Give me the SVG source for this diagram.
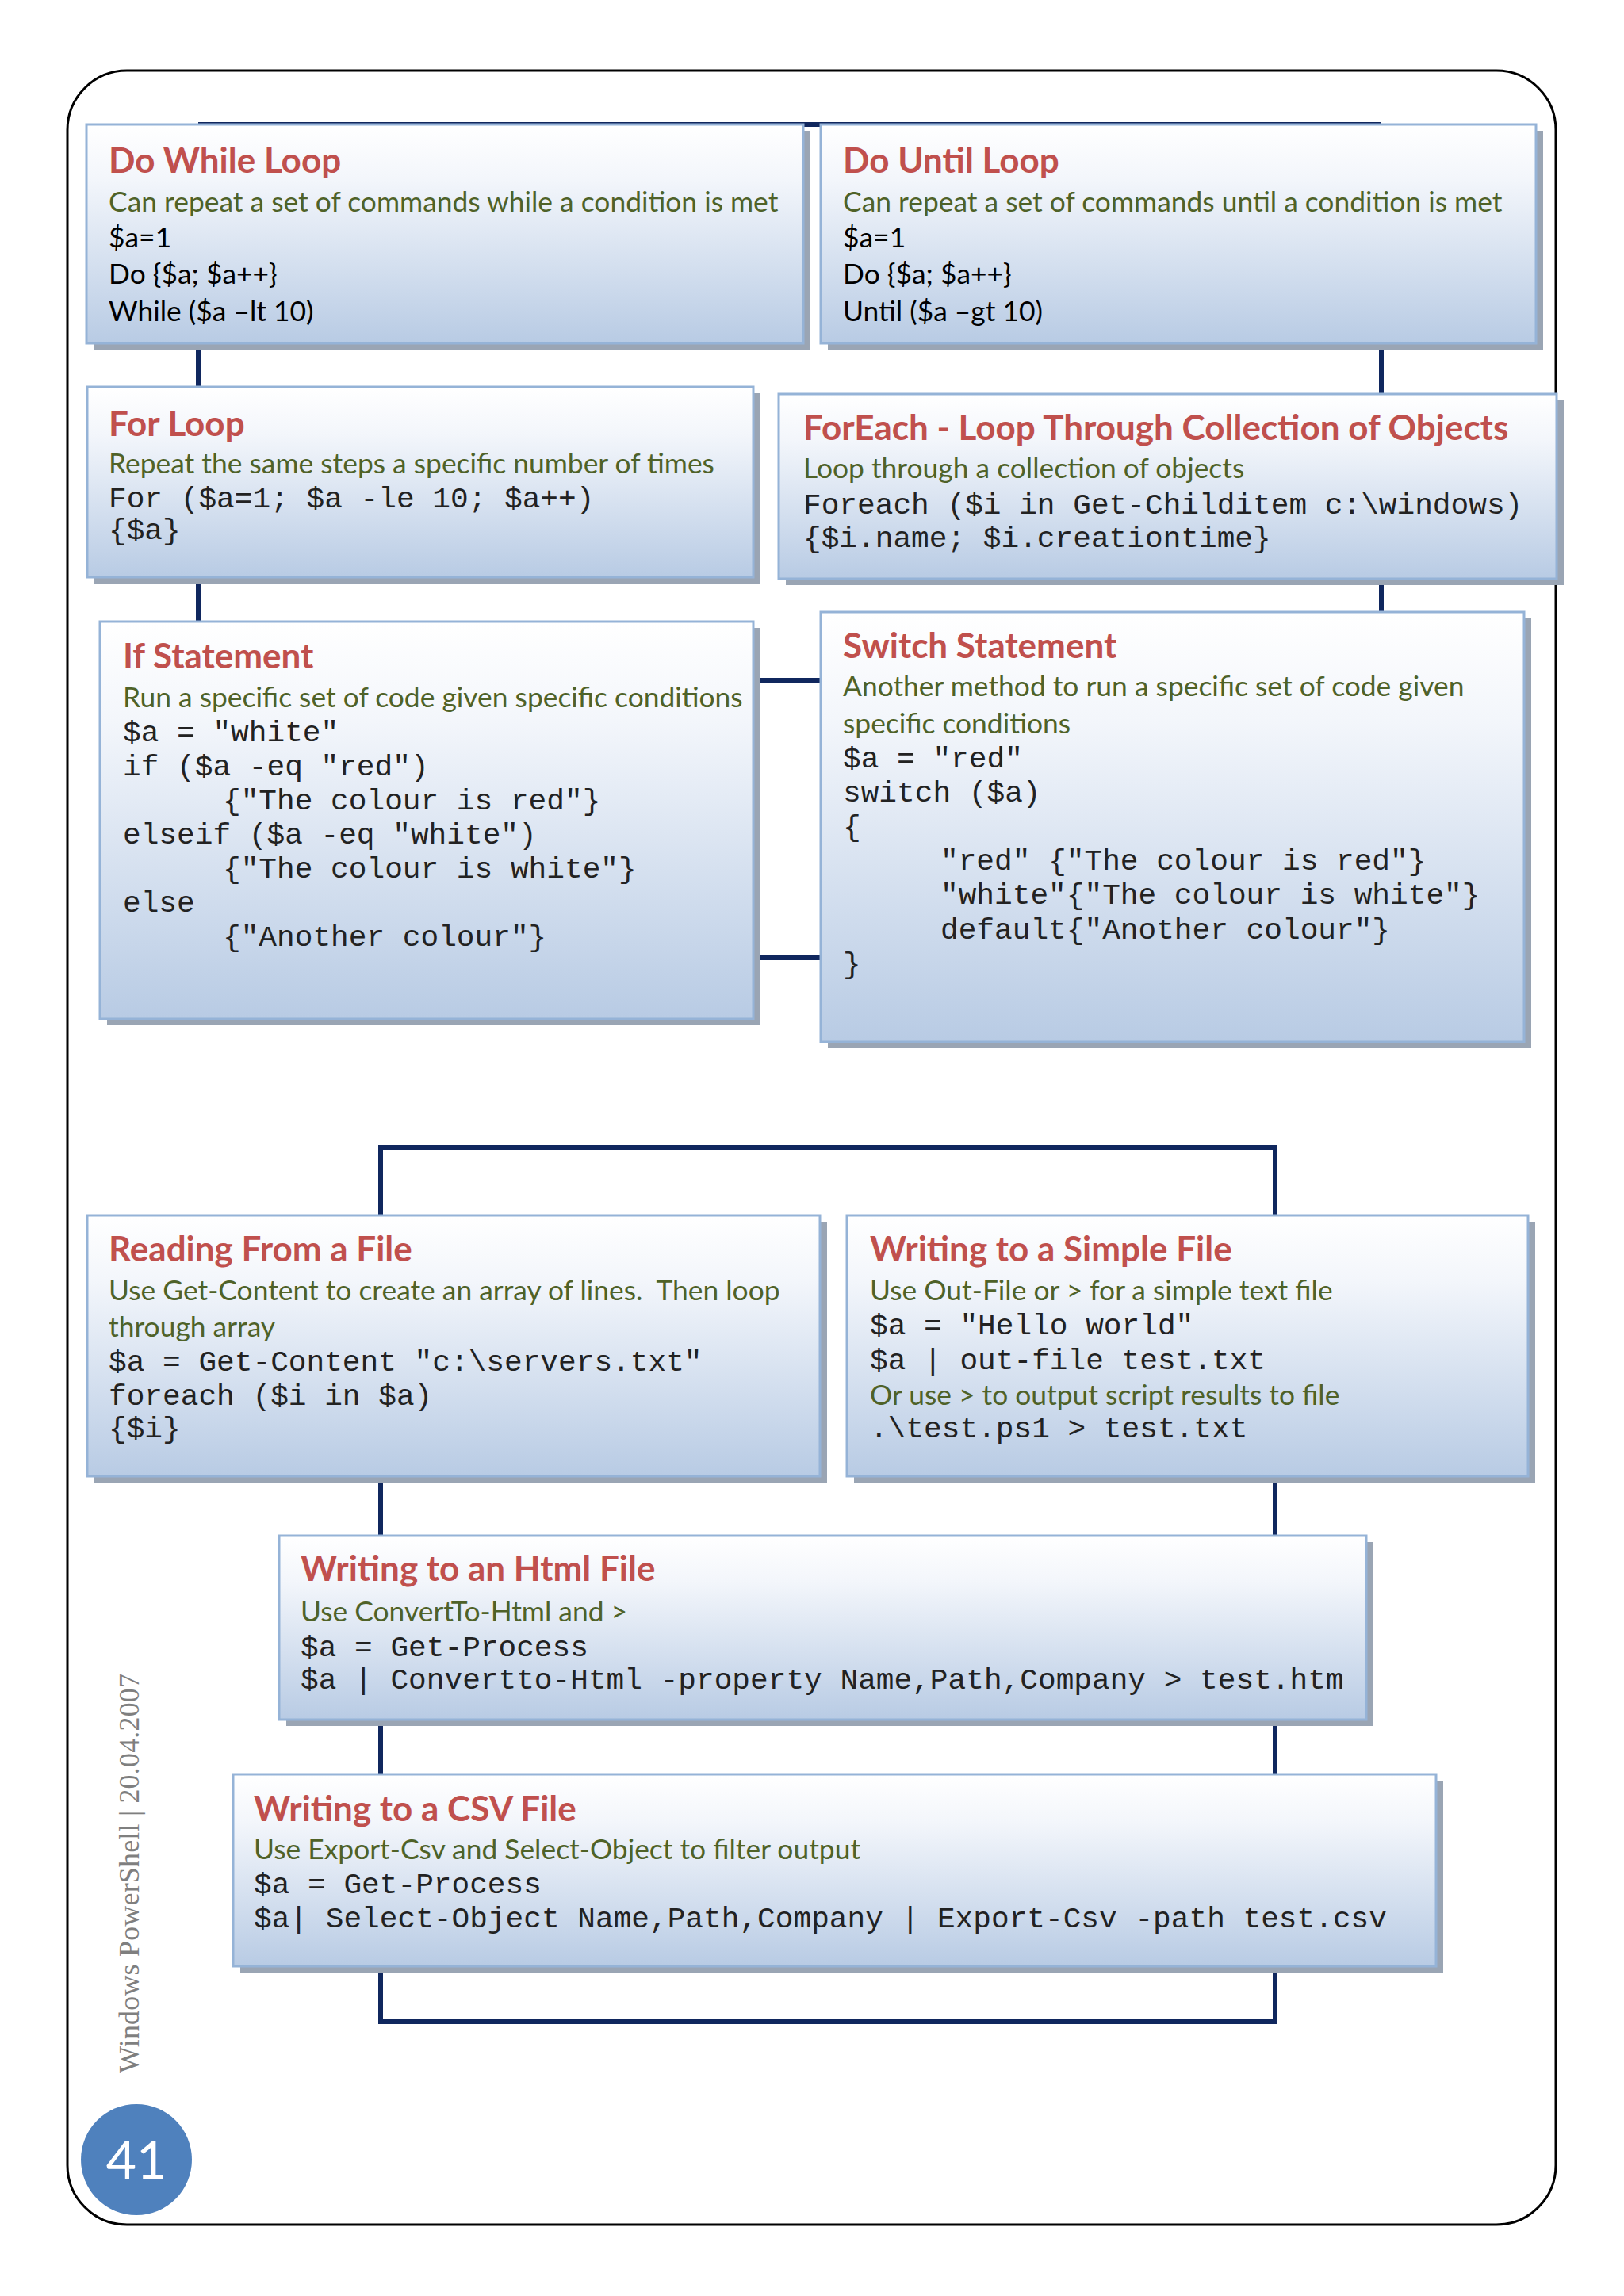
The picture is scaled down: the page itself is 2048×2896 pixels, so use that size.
<svg xmlns="http://www.w3.org/2000/svg" width="2048" height="2896" viewBox="0 0 2048 2896">
<defs>
<linearGradient id="boxGrad" x1="0" y1="0" x2="0" y2="1">
<stop offset="0" stop-color="#ffffff"/>
<stop offset="0.25" stop-color="#f3f6fb"/>
<stop offset="1" stop-color="#b8cbe4"/>
</linearGradient>
<style>
.shadow{fill:#9aa5b4}
.box{fill:url(#boxGrad);stroke:#95b3d7;stroke-width:3}
.title{font-family:Lato,"Open Sans",sans-serif;font-weight:bold;font-size:44px;fill:#c0504d}
.sub{font-family:Lato,"Open Sans",sans-serif;font-size:35.4px;fill:#4f6228}
.body{font-family:Lato,"Open Sans",sans-serif;font-size:35.4px;fill:#000000}
.mono{font-family:"Liberation Mono","Courier New",monospace;font-size:37.8px;fill:#222222}
.conn{fill:none;stroke:#10275e;stroke-width:6}
.side{font-family:"Liberation Serif","DejaVu Serif",serif;font-size:36px;fill:#7f7f7f}
</style>
</defs>
<rect x="0" y="0" width="2048" height="2896" fill="#ffffff"/>
<rect id="page-border" x="85" y="89" width="1877" height="2717" rx="75" ry="75" fill="none" stroke="#000000" stroke-width="3"/>

<g id="connectors">
<path class="conn" d="M250 157 H1742"/>
<path class="conn" d="M250 433 V488"/>
<path class="conn" d="M250 728 V784"/>
<path class="conn" d="M1742 433 V497"/>
<path class="conn" d="M1742 730 V772"/>
<path class="conn" d="M955 858 H1035"/>
<path class="conn" d="M955 1208 H1035"/>
<path class="conn" d="M480 1533 V1447 H1608 V1533"/>
<path class="conn" d="M480 1862 V1937"/>
<path class="conn" d="M1608 1862 V1937"/>
<path class="conn" d="M480 2169 V2238"/>
<path class="conn" d="M1608 2169 V2238"/>
<path class="conn" d="M480 2480 V2550 H1608 V2480"/>
</g>

<g id="do-while">
<rect class="shadow" x="118" y="165" width="904" height="276"/>
<rect class="box" x="109" y="157" width="904" height="276"/>
<text class="title" x="137" y="218">Do While Loop</text>
<text class="sub" x="137" y="267">Can repeat a set of commands while a condition is met</text>
<text class="body" x="137" y="312">$a=1</text>
<text class="body" x="137" y="358">Do {$a; $a++}</text>
<text class="body" x="137" y="405">While ($a –lt 10)</text>
</g>

<g id="do-until">
<rect class="shadow" x="1044" y="165" width="902" height="276"/>
<rect class="box" x="1035" y="157" width="902" height="276"/>
<text class="title" x="1063" y="218">Do Until Loop</text>
<text class="sub" x="1063" y="267">Can repeat a set of commands until a condition is met</text>
<text class="body" x="1063" y="312">$a=1</text>
<text class="body" x="1063" y="358">Do {$a; $a++}</text>
<text class="body" x="1063" y="405">Until ($a –gt 10)</text>
</g>

<g id="for-loop">
<rect class="shadow" x="119" y="496" width="840" height="240"/>
<rect class="box" x="110" y="488" width="840" height="240"/>
<text class="title" x="137" y="550">For Loop</text>
<text class="sub" x="137" y="597">Repeat the same steps a specific number of times</text>
<text class="mono" x="137" y="640">For ($a=1; $a -le 10; $a++)</text>
<text class="mono" x="137" y="680">{$a}</text>
</g>

<g id="foreach-loop">
<rect class="shadow" x="991" y="505" width="981" height="233"/>
<rect class="box" x="982" y="497" width="981" height="233"/>
<text class="title" x="1013" y="555">ForEach - Loop Through Collection of Objects</text>
<text class="sub" x="1013" y="603">Loop through a collection of objects</text>
<text class="mono" x="1013" y="648">Foreach ($i in Get-Childitem c:\windows)</text>
<text class="mono" x="1013" y="690">{$i.name; $i.creationtime}</text>
</g>

<g id="if-statement">
<rect class="shadow" x="135" y="792" width="824" height="501"/>
<rect class="box" x="126" y="784" width="824" height="501"/>
<text class="title" x="155" y="843">If Statement</text>
<text class="sub" x="155" y="892">Run a specific set of code given specific conditions</text>
<text class="mono" x="155" y="935">$a = "white"</text>
<text class="mono" x="155" y="978">if ($a -eq "red")</text>
<text class="mono" x="281" y="1021">{"The colour is red"}</text>
<text class="mono" x="155" y="1064">elseif ($a -eq "white")</text>
<text class="mono" x="281" y="1107">{"The colour is white"}</text>
<text class="mono" x="155" y="1150">else</text>
<text class="mono" x="281" y="1193">{"Another colour"}</text>
</g>

<g id="switch-statement">
<rect class="shadow" x="1044" y="780" width="887" height="542"/>
<rect class="box" x="1035" y="772" width="887" height="542"/>
<text class="title" x="1063" y="830">Switch Statement</text>
<text class="sub" x="1063" y="878">Another method to run a specific set of code given</text>
<text class="sub" x="1063" y="925">specific conditions</text>
<text class="mono" x="1063" y="968">$a = "red"</text>
<text class="mono" x="1063" y="1011">switch ($a)</text>
<text class="mono" x="1063" y="1054">{</text>
<text class="mono" x="1186" y="1097">"red" {"The colour is red"}</text>
<text class="mono" x="1186" y="1140">"white"{"The colour is white"}</text>
<text class="mono" x="1186" y="1184">default{"Another colour"}</text>
<text class="mono" x="1063" y="1227">}</text>
</g>

<g id="reading-file">
<rect class="shadow" x="119" y="1541" width="924" height="329"/>
<rect class="box" x="110" y="1533" width="924" height="329"/>
<text class="title" x="137" y="1591">Reading From a File</text>
<text class="sub" x="137" y="1640">Use Get-Content to create an array of lines.&#160; Then loop</text>
<text class="sub" x="137" y="1686">through array</text>
<text class="mono" x="137" y="1729">$a = Get-Content "c:\servers.txt"</text>
<text class="mono" x="137" y="1772">foreach ($i in $a)</text>
<text class="mono" x="137" y="1813">{$i}</text>
</g>

<g id="writing-simple-file">
<rect class="shadow" x="1077" y="1541" width="859" height="329"/>
<rect class="box" x="1068" y="1533" width="859" height="329"/>
<text class="title" x="1097" y="1591">Writing to a Simple File</text>
<text class="sub" x="1097" y="1640">Use Out-File or &gt; for a simple text file</text>
<text class="mono" x="1097" y="1683">$a = "Hello world"</text>
<text class="mono" x="1097" y="1727">$a | out-file test.txt</text>
<text class="sub" x="1097" y="1772">Or use &gt; to output script results to file</text>
<text class="mono" x="1097" y="1813">.\test.ps1 &gt; test.txt</text>
</g>

<g id="writing-html-file">
<rect class="shadow" x="361" y="1945" width="1371" height="232"/>
<rect class="box" x="352" y="1937" width="1371" height="232"/>
<text class="title" x="379" y="1994">Writing to an Html File</text>
<text class="sub" x="379" y="2045">Use ConvertTo-Html and &gt;</text>
<text class="mono" x="379" y="2089">$a = Get-Process</text>
<text class="mono" x="379" y="2130">$a | Convertto-Html -property Name,Path,Company &gt; test.htm</text>
</g>

<g id="writing-csv-file">
<rect class="shadow" x="303" y="2246" width="1517" height="242"/>
<rect class="box" x="294" y="2238" width="1517" height="242"/>
<text class="title" x="320" y="2297">Writing to a CSV File</text>
<text class="sub" x="320" y="2345">Use Export-Csv and Select-Object to filter output</text>
<text class="mono" x="320" y="2388">$a = Get-Process</text>
<text class="mono" x="320" y="2431">$a| Select-Object Name,Path,Company | Export-Csv -path test.csv</text>
</g>

<g id="footer">
<text class="side" transform="translate(175 2615) rotate(-90)" x="0" y="0" textLength="504" lengthAdjust="spacing">Windows PowerShell | 20.04.2007</text>
<circle cx="172" cy="2724" r="70" fill="#4f81bd"/>
<text x="172" y="2748" text-anchor="middle" font-family="Lato,'Open Sans',sans-serif" font-size="66" fill="#ffffff">41</text>
</g>
</svg>
